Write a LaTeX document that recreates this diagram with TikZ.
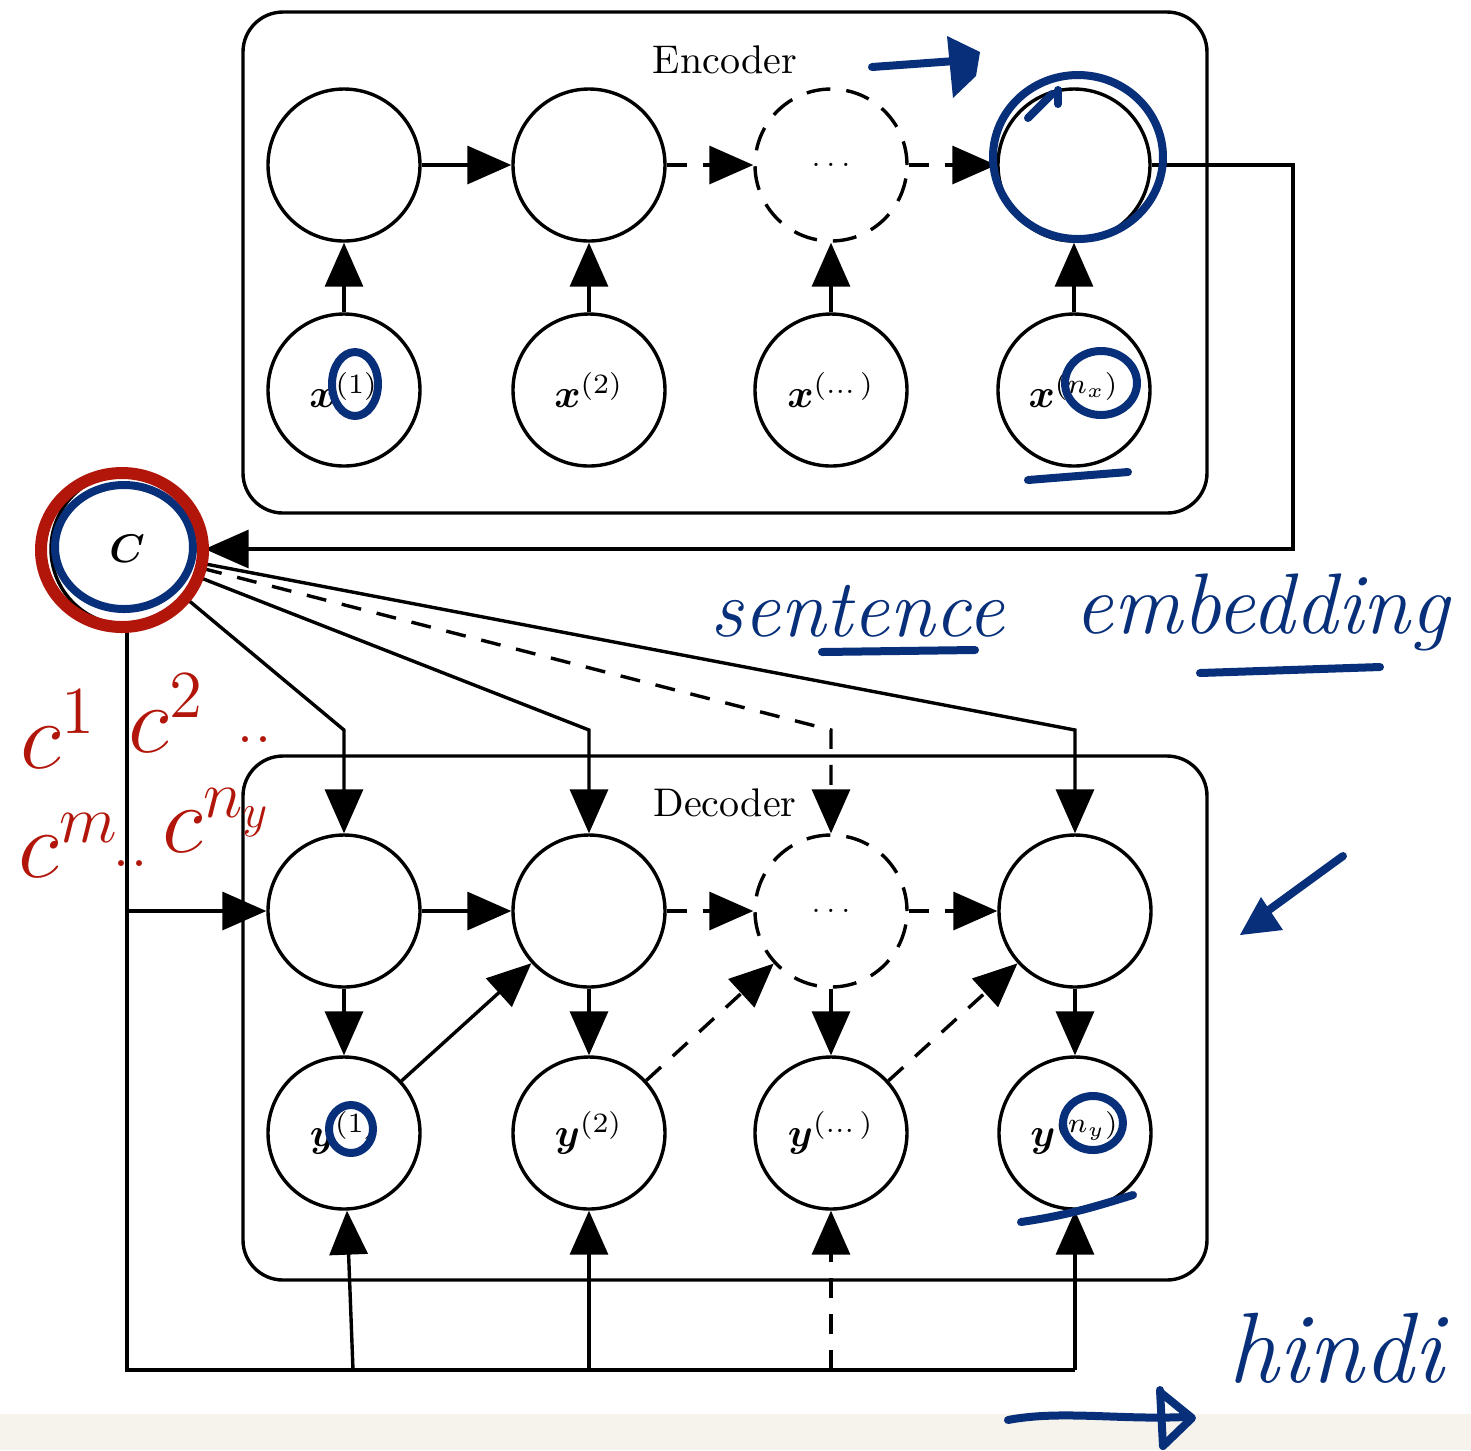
\RequirePackage{fix-cm}
\documentclass[tikz,border=0pt]{standalone}
\usepackage{amsmath,amssymb}
\usetikzlibrary{arrows.meta,shapes.geometric}
\definecolor{ink}{RGB}{8,47,122}
\definecolor{redink}{RGB}{178,22,10}
\definecolor{paper}{RGB}{246,243,236}
\begin{document}
\begin{tikzpicture}[x=0.25pt,y=-0.25pt,
  unit/.style={circle,draw,line width=0.85pt,minimum size=38pt,inner sep=0pt},
  dunit/.style={unit,dash pattern=on 6pt off 4pt},
  frame/.style={draw,line width=0.85pt,rounded corners=10pt,minimum width=241pt,inner sep=0pt},
  arr/.style={line width=0.85pt,-{Triangle[length=11pt,width=9.5pt]}},
  darr/.style={arr,dash pattern=on 5pt off 4pt},
  ln/.style={line width=0.85pt},
  hand/.style={ink,line width=2pt,line cap=round,line join=round},
  rhand/.style={redink,line width=3pt,line cap=round,line join=round},
  htext/.style={ink,anchor=base west,inner sep=0pt},
  rtext/.style={redink,anchor=base west,inner sep=0pt,font=\fontsize{24}{26}\selectfont},
  rdots/.style={redink,anchor=base west,inner sep=0pt,font=\fontsize{18}{20}\selectfont},
]
\useasboundingbox (0,0) rectangle (1471,1450);
\fill[white] (0,0) rectangle (1471,1450);
\fill[paper] (0,1414) rectangle (1471,1450);

% frames
\node[frame,minimum height=125.25pt] (enc) at (725,262.5) {};
\node[frame,minimum height=131pt] (dec) at (725,1018) {};
\node (enclab) at (725,60) {Encoder};
\node (declab) at (725,803) {Decoder};

% encoder
\node[unit]  (h1) at (344,165) {};
\node[unit]  (h2) at (589,165) {};
\node[dunit] (h3) at (831,165) {\scriptsize$\ldots$};
\node[unit]  (h4) at (1074,165) {};
\node[unit] (x1) at (344,390) {$\boldsymbol{x}^{(1)}$};
\node[unit] (x2) at (589,390) {$\boldsymbol{x}^{(2)}$};
\node[unit] (x3) at (831,390) {$\boldsymbol{x}^{(\dots)}$};
\node[unit] (x4) at (1074,390) {$\boldsymbol{x}^{(n_x)}$};
\draw[arr] (h1) -- (h2);
\draw[darr] (h2) -- (h3);
\draw[darr] (h3) -- (h4);
\draw[arr] (x1) -- (h1);
\draw[arr] (x2) -- (h2);
\draw[arr] (x3) -- (h3);
\draw[arr] (x4) -- (h4);

% context
\node[unit] (C) at (127,549) {$\boldsymbol{C}$};
\coordinate (eo) at (1293,165);
\coordinate (ec) at (1293,549);
\draw[arr] (h4) -- (eo) -- (ec) -- (C);

% decoder
\node[unit]  (d1) at (344,911) {};
\node[unit]  (d2) at (589,911) {};
\node[dunit] (d3) at (831,911) {\scriptsize$\ldots$};
\node[unit]  (d4) at (1075,911) {};
\node[unit] (y1) at (344,1133) {$\boldsymbol{y}^{(1)}$};
\node[unit] (y2) at (589,1133) {$\boldsymbol{y}^{(2)}$};
\node[unit] (y3) at (831,1133) {$\boldsymbol{y}^{(\dots)}$};
\node[unit] (y4) at (1075,1133) {$\boldsymbol{y}^{(n_y)}$};
\draw[arr] (d1) -- (d2);
\draw[darr] (d2) -- (d3);
\draw[darr] (d3) -- (d4);
\draw[arr] (d1) -- (y1);
\draw[arr] (d2) -- (y2);
\draw[arr] (d3) -- (y3);
\draw[arr] (d4) -- (y4);
\draw[arr] (y1) -- (d2);
\draw[darr] (y2) -- (d3);
\draw[darr] (y3) -- (d4);

% context to decoder
\coordinate (k1) at (344,730);
\coordinate (k2) at (589,730);
\coordinate (k3) at (831,730);
\coordinate (k4) at (1075,730);
\draw[arr] (C) -- (k1) -- (d1);
\draw[arr] (C) -- (k2) -- (d2);
\draw[darr] (C) -- (k3) -- (d3);
\draw[arr] (C) -- (k4) -- (d4);

\coordinate (cb) at (127,1370);
\coordinate (j0) at (127,911);
\coordinate (b1) at (353,1370);
\coordinate (b2) at (589,1370);
\coordinate (b3) at (831,1370);
\coordinate (b4) at (1075,1370);
\draw[ln] (C) -- (cb) -- (b4);
\draw[arr] (j0) -- (d1);
\draw[arr] (b1) -- (y1);
\draw[arr] (b2) -- (y2);
\draw[darr] (b3) -- (y3);
\draw[arr] (b4) -- (y4);

% blue annotations
\draw[hand] (872,67) -- (955,61);
\fill[ink] (947,36) -- (980,52) -- (976,76) -- (953,98) -- cycle;
\draw[hand] (1078,157) ellipse [x radius=21.25pt,y radius=20.5pt];
\draw[hand] (1028,118) -- (1052,94);
\draw[hand] (1058,90) -- (1058,104);
\draw[hand] (355,384) ellipse [x radius=5.75pt,y radius=8pt];
\draw[hand] (1101,383) ellipse [x radius=9pt,y radius=8pt];
\draw[hand] (1028,480) -- (1128,472);
\draw[hand] (351,1129) ellipse [x radius=5.5pt,y radius=6pt];
\draw[hand] (1093,1123) ellipse [x radius=7.5pt,y radius=6.75pt];
\draw[hand] (1021,1222) .. controls (1070,1215) and (1100,1205) .. (1133,1195);
\draw[hand] (124,547) ellipse [x radius=17.25pt,y radius=15.5pt];
\draw[rhand] (122,550) ellipse [x radius=20.25pt,y radius=19.25pt];

\node[htext,font=\fontsize{20.5}{24}\selectfont\itshape] (sent) at (710,636) {sentence};
\node[htext,font=\fontsize{21.5}{26}\selectfont\itshape] (emb) at (1074,633) {embedding};
\draw[hand] (822,652) -- (975,650);
\draw[hand] (1200,673) -- (1380,667);
\draw[hand] (1343,856) -- (1262,915);
\fill[ink] (1261,897) -- (1240,935) -- (1283,930) -- cycle;
\node[htext,font=\fontsize{25}{28}\selectfont\itshape] (hindi) at (1228,1382) {hindi};
\draw[hand] (1008,1420) .. controls (1060,1410) and (1120,1420) .. (1185,1417);
\draw[hand] (1160,1390) -- (1163,1446);
\draw[hand] (1160,1392) -- (1192,1418) -- (1163,1446);

% red annotations
\node[rtext] (c1) at (20,768) {$c^{1}$};
\node[rtext] (c2) at (128,752) {$c^{2}$};
\node[rdots] (cdots1) at (236,742) {..};
\node[rtext] (cm) at (18,877) {$c^{m}$};
\node[rdots] (cdots2) at (112,866) {..};
\node[rtext] (cny) at (162,852) {$c^{n_y}$};
\end{tikzpicture}
\end{document}
